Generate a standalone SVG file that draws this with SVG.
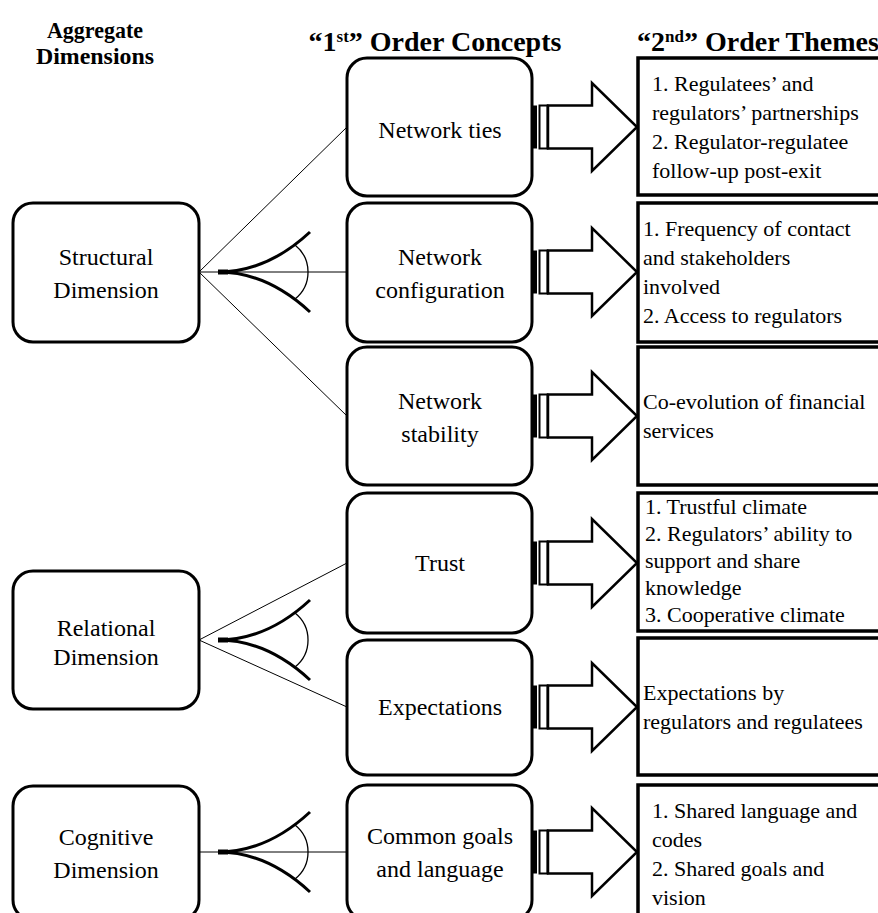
<svg xmlns="http://www.w3.org/2000/svg" width="878" height="913" viewBox="0 0 878 913">
<defs>
<style>
text{font-family:"Liberation Serif","Times New Roman",serif;fill:#000}
.hd{font-weight:bold;text-anchor:middle}
.nt{font-size:24px;text-anchor:middle}
.rt{font-size:22px}
.box{fill:#fff;stroke:#000;stroke-width:3}
.rbox{fill:#fff;stroke:#000;stroke-width:3.5}
.thin{stroke:#000;stroke-width:1;fill:none}
.fork{stroke:#000;stroke-width:3;fill:none}
.arc{stroke:#000;stroke-width:1.3;fill:none}
.arrow{fill:#fff;stroke:#000;stroke-width:2.5;stroke-linejoin:miter}
.s1{fill:#000}
.s2{fill:#fff;stroke:#000;stroke-width:2}
</style>
<g id="forkshape">
<path class="fork" d="M218,0 C250,0 282,-14 310,-40"/>
<path class="fork" d="M218,0 C250,0 282,14 310,40"/>
<path d="M218,0 L228,0" stroke="#000" stroke-width="5"/>
<path class="arc" d="M295,-27 A34.5,34.5 0 0 1 295,27"/>
</g>
<g id="striped">
<rect class="s1" x="532" y="-21.5" width="5" height="43"/>
<rect class="s2" x="539.5" y="-21.5" width="8" height="43"/>
<polygon class="arrow" points="548,-21.5 592,-21.5 592,-44 637,0 592,44 592,21.5 548,21.5"/>
</g>
</defs>

<g id="headers">
<text class="hd" x="95" y="38" font-size="24" textLength="96" lengthAdjust="spacingAndGlyphs">Aggregate</text>
<text class="hd" x="95" y="64" font-size="24" textLength="118" lengthAdjust="spacingAndGlyphs">Dimensions</text>
<text class="hd" x="435" y="51" font-size="28">“1<tspan font-size="17" baseline-shift="super">st</tspan>” Order Concepts</text>
<text class="hd" x="637" y="51" font-size="28" style="text-anchor:start">“2<tspan font-size="17" baseline-shift="super">nd</tspan>” Order Themes</text>
</g>

<g id="connectors">
<line class="thin" x1="199" y1="272" x2="347" y2="127"/>
<line class="thin" x1="199" y1="272" x2="347" y2="272"/>
<line class="thin" x1="199" y1="272" x2="347" y2="416"/>
<line class="thin" x1="199" y1="640" x2="347" y2="563"/>
<line class="thin" x1="199" y1="640" x2="347" y2="707"/>
<line class="thin" x1="199" y1="852" x2="347" y2="852"/>
<use href="#forkshape" transform="translate(0,272)"/>
<use href="#forkshape" transform="translate(0,640)"/>
<use href="#forkshape" transform="translate(0,852)"/>
<use href="#striped" transform="translate(0,127)"/>
<use href="#striped" transform="translate(0,272)"/>
<use href="#striped" transform="translate(0,416)"/>
<use href="#striped" transform="translate(0,563)"/>
<use href="#striped" transform="translate(0,707)"/>
<use href="#striped" transform="translate(0,852)"/>
</g>

<g id="structural">
<rect class="box" x="13" y="203" width="186" height="139" rx="20"/>
<text class="nt" x="106" y="265">Structural</text>
<text class="nt" x="106" y="298">Dimension</text>
</g>
<g id="relational">
<rect class="box" x="13" y="571" width="186" height="138" rx="20"/>
<text class="nt" x="106" y="636">Relational</text>
<text class="nt" x="106" y="665">Dimension</text>
</g>
<g id="cognitive">
<rect class="box" x="13" y="786" width="186" height="134" rx="20"/>
<text class="nt" x="106" y="845">Cognitive</text>
<text class="nt" x="106" y="878">Dimension</text>
</g>

<g id="network-ties">
<rect class="box" x="347" y="58" width="185" height="138" rx="20"/>
<text class="nt" x="440" y="138">Network ties</text>
</g>
<g id="network-configuration">
<rect class="box" x="347" y="203" width="185" height="139" rx="20"/>
<text class="nt" x="440" y="265">Network</text>
<text class="nt" x="440" y="298">configuration</text>
</g>
<g id="network-stability">
<rect class="box" x="347" y="347" width="185" height="138" rx="20"/>
<text class="nt" x="440" y="409">Network</text>
<text class="nt" x="440" y="442">stability</text>
</g>
<g id="trust">
<rect class="box" x="347" y="493" width="185" height="140" rx="20"/>
<text class="nt" x="440" y="571">Trust</text>
</g>
<g id="expectations">
<rect class="box" x="347" y="640" width="185" height="135" rx="20"/>
<text class="nt" x="440" y="715">Expectations</text>
</g>
<g id="common-goals">
<rect class="box" x="347" y="785" width="185" height="135" rx="20"/>
<text class="nt" x="440" y="844">Common goals</text>
<text class="nt" x="440" y="877">and language</text>
</g>

<g id="theme-1">
<rect class="rbox" x="638" y="58" width="260" height="137"/>
<text class="rt" x="652" y="91">1. Regulatees’ and</text>
<text class="rt" x="652" y="120">regulators’ partnerships</text>
<text class="rt" x="652" y="149">2. Regulator-regulatee</text>
<text class="rt" x="652" y="178">follow-up post-exit</text>
</g>
<g id="theme-2">
<rect class="rbox" x="638" y="203" width="260" height="139"/>
<text class="rt" x="643" y="236">1. Frequency of contact</text>
<text class="rt" x="643" y="265">and stakeholders</text>
<text class="rt" x="643" y="294">involved</text>
<text class="rt" x="643" y="323">2. Access to regulators</text>
</g>
<g id="theme-3">
<rect class="rbox" x="638" y="347" width="260" height="138"/>
<text class="rt" x="643" y="409">Co-evolution of financial</text>
<text class="rt" x="643" y="438">services</text>
</g>
<g id="theme-4">
<rect class="rbox" x="638" y="493" width="260" height="138"/>
<text class="rt" x="645" y="514">1. Trustful climate</text>
<text class="rt" x="645" y="541">2. Regulators’ ability to</text>
<text class="rt" x="645" y="568">support and share</text>
<text class="rt" x="645" y="595">knowledge</text>
<text class="rt" x="645" y="622">3. Cooperative climate</text>
</g>
<g id="theme-5">
<rect class="rbox" x="638" y="638" width="260" height="137"/>
<text class="rt" x="643" y="700">Expectations by</text>
<text class="rt" x="643" y="729">regulators and regulatees</text>
</g>
<g id="theme-6">
<rect class="rbox" x="638" y="785" width="260" height="140"/>
<text class="rt" x="652" y="818">1. Shared language and</text>
<text class="rt" x="652" y="847">codes</text>
<text class="rt" x="652" y="876">2. Shared goals and</text>
<text class="rt" x="652" y="905">vision</text>
</g>
</svg>
